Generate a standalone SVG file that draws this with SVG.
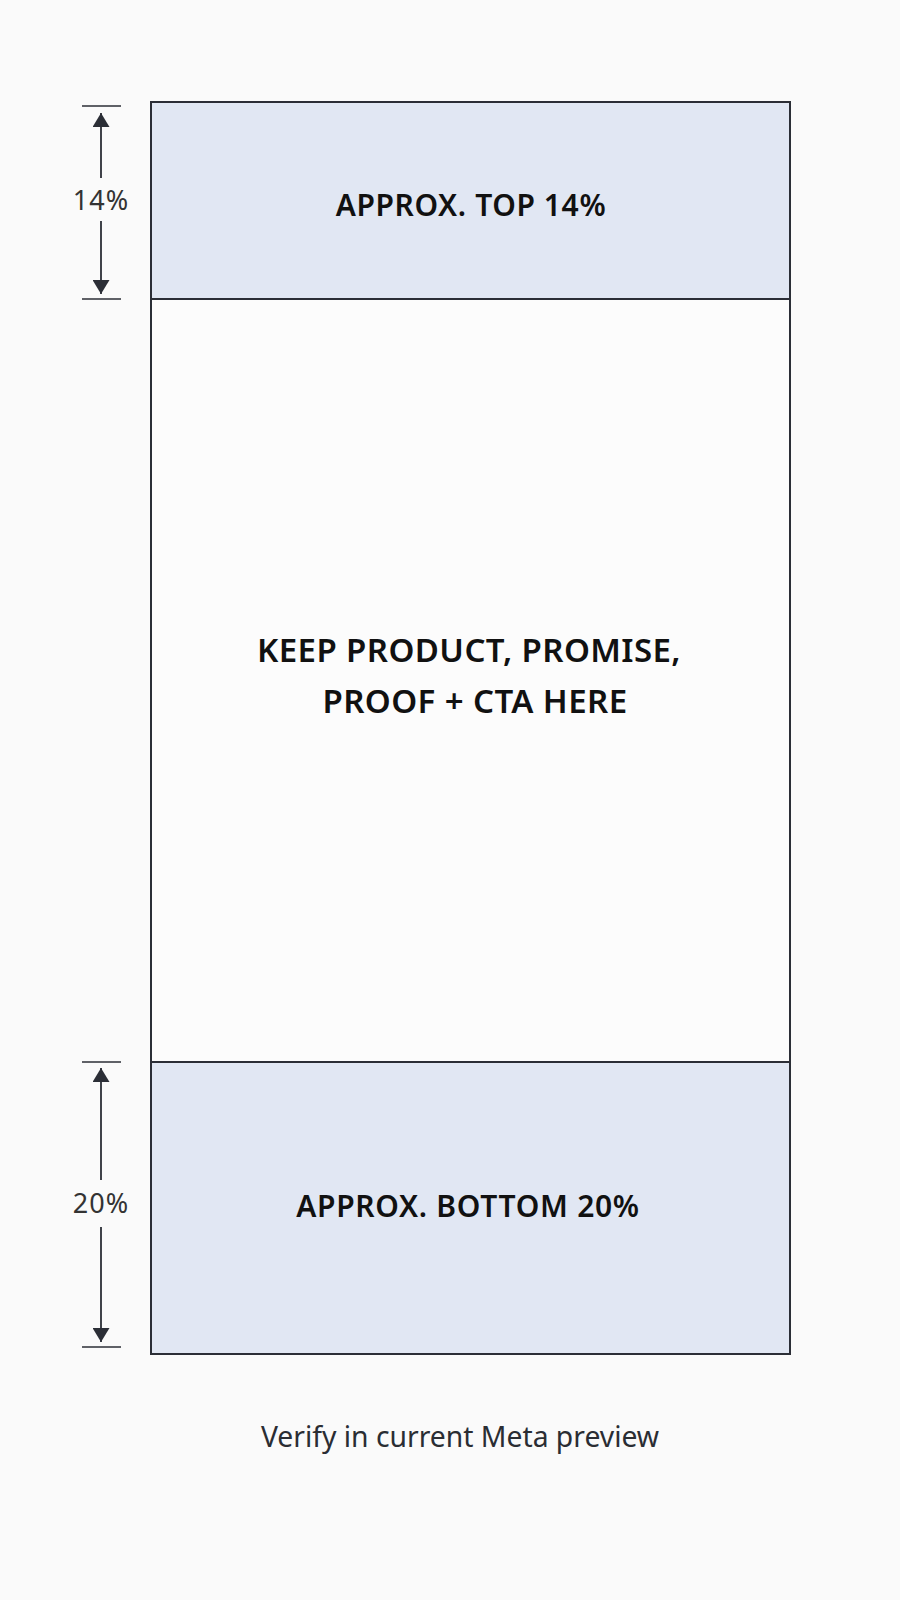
<svg xmlns="http://www.w3.org/2000/svg" width="900" height="1600" viewBox="0 0 900 1600">
<defs>
<style>
.bg{fill:#fafafa}
.band{fill:#e1e7f3;stroke:none}
.frame{fill:none;stroke:#2b2e36;stroke-width:2}
.div{stroke:#2b2e36;stroke-width:2}
.tick{stroke:#2b2e36;stroke-width:1.6}
.dim{stroke:#2b2e36;stroke-width:1.8;fill:none}
.lbl{font-family:"Noto Sans","Open Sans",sans-serif;font-weight:600;fill:#111;text-anchor:middle}
.pct{font-family:"Noto Sans","Open Sans",sans-serif;font-weight:400;fill:#333;text-anchor:middle;font-size:27px;letter-spacing:1px}
.note{font-family:"Noto Sans","Open Sans",sans-serif;font-weight:400;fill:#2a2d33;text-anchor:middle;font-size:28.3px}
</style>
<marker id="ah" viewBox="0 0 14 17" refX="14" refY="8.5" markerWidth="14" markerHeight="17" orient="auto-start-reverse" markerUnits="userSpaceOnUse">
<path d="M0,0 L14,8.5 L0,17 z" fill="#2b2e36"/>
</marker>
</defs>
<rect class="bg" x="0" y="0" width="900" height="1600"/>
<g id="top-zone">
<rect class="band" x="151" y="102" width="639" height="197"/>
<text class="lbl" x="471" y="216" font-size="30" letter-spacing="0.6">APPROX. TOP 14%</text>
</g>
<g id="safe-zone">
<rect x="151" y="299" width="639" height="763" fill="#fcfcfc"/>
<text class="lbl" x="469" y="662" font-size="33" letter-spacing="0.4">KEEP PRODUCT, PROMISE,</text>
<text class="lbl" x="475" y="713" font-size="33" letter-spacing="0.4">PROOF + CTA HERE</text>
</g>
<g id="bottom-zone">
<rect class="band" x="151" y="1062" width="639" height="292"/>
<text class="lbl" x="468" y="1217" font-size="30" letter-spacing="0.7">APPROX. BOTTOM 20%</text>
</g>
<g id="frame">
<rect class="frame" x="151" y="102" width="639" height="1252"/>
<line class="div" x1="151" y1="299" x2="790" y2="299"/>
<line class="div" x1="151" y1="1062" x2="790" y2="1062"/>
</g>
<g id="connectors">
<line class="tick" x1="82" y1="106" x2="121" y2="106"/>
<line class="tick" x1="82" y1="299" x2="121" y2="299"/>
<line class="dim" x1="101" y1="178" x2="101" y2="113" marker-end="url(#ah)"/>
<line class="dim" x1="101" y1="221" x2="101" y2="294" marker-end="url(#ah)"/>
<line class="tick" x1="82" y1="1062" x2="121" y2="1062"/>
<line class="tick" x1="82" y1="1347" x2="121" y2="1347"/>
<line class="dim" x1="101" y1="1180" x2="101" y2="1068" marker-end="url(#ah)"/>
<line class="dim" x1="101" y1="1227" x2="101" y2="1342" marker-end="url(#ah)"/>
</g>
<g id="dim-labels">
<text class="pct" x="101" y="210">14%</text>
<text class="pct" x="101" y="1213">20%</text>
</g>
<g id="note">
<text class="note" x="460" y="1447">Verify in current Meta preview</text>
</g>
</svg>
